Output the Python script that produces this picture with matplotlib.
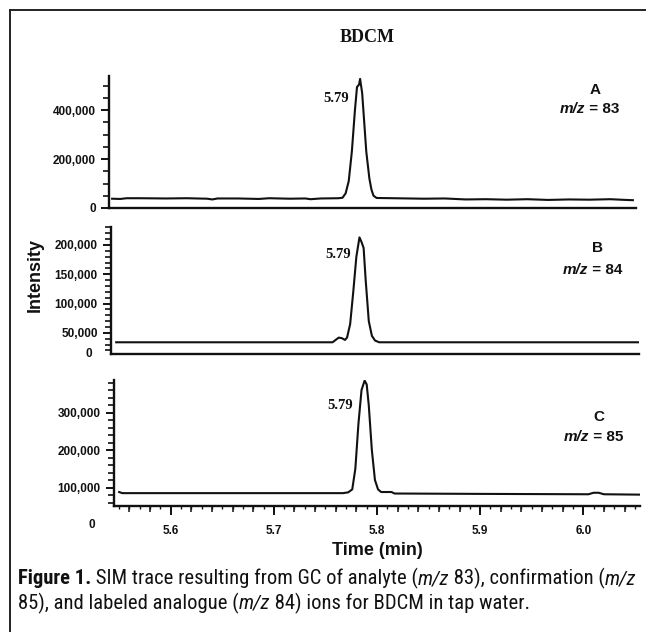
import numpy as np
import matplotlib
matplotlib.use('Agg')
import matplotlib.pyplot as plt
from matplotlib import font_manager
from matplotlib.ticker import MultipleLocator, FixedLocator, FuncFormatter, NullFormatter
import matplotlib.transforms as mtransforms

# --- data ---
# panel A, m/z 83
time_a = [5.548, 5.556, 5.562, 5.575, 5.60, 5.62, 5.64, 5.645, 5.65, 5.67, 5.69, 5.70,
          5.72, 5.735, 5.74, 5.75, 5.767, 5.771, 5.774, 5.777, 5.780, 5.783, 5.785,
          5.787, 5.788, 5.790, 5.792, 5.794, 5.797, 5.799, 5.801, 5.804, 5.82, 5.85,
          5.87, 5.89, 5.91, 5.93, 5.95, 5.97, 5.99, 6.01, 6.03, 6.045, 6.052]
int_a = [38000, 37000, 40000, 40000, 39000, 40000, 38000, 35000, 39000, 39000, 37000, 40000,
         38000, 39000, 36000, 39000, 40000, 42000, 60000, 110000, 230000, 400000, 495000,
         505000, 528000, 470000, 350000, 230000, 120000, 75000, 50000, 41000, 40000, 38000,
         39000, 35000, 36000, 34000, 36000, 33000, 35000, 34000, 36000, 33000, 32000]

# panel B, m/z 84
time_b = [5.550, 5.60, 5.70, 5.759, 5.762, 5.765, 5.768, 5.771, 5.773, 5.776, 5.779,
          5.782, 5.785, 5.787, 5.789, 5.791, 5.794, 5.797, 5.800, 5.804, 5.85, 5.95, 6.055]
int_b = [34000, 34000, 34000, 34000, 38000, 42000, 41000, 38000, 42000, 65000, 120000,
         180000, 213000, 205000, 195000, 140000, 70000, 45000, 37000, 34000, 34000, 34000, 34000]

# panel C, m/z 85
time_c = [5.550, 5.553, 5.60, 5.70, 5.767, 5.772, 5.776, 5.779, 5.782, 5.785, 5.788,
          5.790, 5.792, 5.795, 5.798, 5.801, 5.804, 5.814, 5.817, 5.90, 6.005, 6.010,
          6.015, 6.020, 6.055]
int_c = [88000, 85000, 85000, 85000, 85000, 87000, 95000, 150000, 270000, 360000, 385000,
         375000, 320000, 200000, 120000, 95000, 88000, 88000, 84000, 83000, 82000, 86000,
         86000, 82000, 81000]

peak_rt = "5.79"
ions = ["83", "84", "85"]
letters = ["A", "B", "C"]
ylims = [(0, 540000), (14000, 230700), (50700, 386700)]
ymajor = [[0, 200000, 400000], [50000, 100000, 150000, 200000], [100000, 200000, 300000]]
yminor_step = [50000, 10000, 20000]
xlim = (5.545, 6.055)
xmajor = [5.6, 5.7, 5.8, 5.9, 6.0]

caption1 = [("Figure 1.", "bold", "normal"),
            (" SIM trace resulting from GC of analyte (", "normal", "normal"),
            ("m/z", "normal", "italic"),
            (" 83), confirmation (", "normal", "normal"),
            ("m/z", "normal", "italic")]
caption2 = [("85), and labeled analogue (", "normal", "normal"),
            ("m/z", "normal", "italic"),
            (" 84) ions for BDCM in tap water.", "normal", "normal")]

# --- layout (pixels of the 646x632 picture) ---
W, H = 646, 632
boxes = [(109, 76, 636, 208), (111, 227, 639, 354), (114, 380, 640, 506)]
sans = ['Liberation Sans', 'DejaVu Sans']
serif = ['Liberation Serif', 'DejaVu Serif']

installed = {f.name for f in font_manager.fontManager.ttflist}
cap_font = 'Liberation Sans'
for name in ['Liberation Sans Narrow', 'DejaVu Sans Condensed', 'Roboto Condensed',
             'Open Sans Condensed', 'Noto Sans Condensed']:
    if name in installed:
        cap_font = name
        break

fig = plt.figure(figsize=(W / 100, H / 100), dpi=100)


def fx(px):
    return px / W


def fy(py):
    return 1 - py / H


# frame lines (top and left only are visible)
fig.add_artist(plt.Line2D([fx(10), 1], [fy(10), fy(10)], color='#222222', lw=1.4))
fig.add_artist(plt.Line2D([fx(10), fx(10)], [fy(10), 0], color='#222222', lw=1.4))

fig.text(fx(367), fy(37), "BDCM", family=serif, fontweight='bold', fontsize=13,
         ha='center', va='center', color='#111111')

traces = [(time_a, int_a), (time_b, int_b), (time_c, int_c)]
axes = []
for k, (l, t, r, b) in enumerate(boxes):
    ax = fig.add_axes([fx(l), fy(b), (r - l) / W, (b - t) / H])
    tt, yy = traces[k]
    ax.plot(tt, yy, color='#111111', lw=1.5, solid_joinstyle='round')
    ax.set_xlim(*xlim)
    ax.set_ylim(*ylims[k])
    for s in ['top', 'right']:
        ax.spines[s].set_visible(False)
    for s in ['left', 'bottom']:
        ax.spines[s].set_linewidth(1.7)
        ax.spines[s].set_color('#111111')
    ax.yaxis.set_major_locator(FixedLocator(ymajor[k]))
    ax.yaxis.set_minor_locator(MultipleLocator(yminor_step[k]))
    ax.yaxis.set_major_formatter(FuncFormatter(lambda v, p: f"{v:,.0f}"))
    ax.tick_params(axis='y', which='major', length=5.5, width=1.4, direction='out',
                   labelsize=8.5, pad=4, colors='#111111')
    ax.tick_params(axis='y', which='minor', length=4, width=1.2, direction='out',
                   colors='#111111')
    for lab in ax.get_yticklabels():
        lab.set_fontfamily(sans)
        lab.set_fontweight('bold')
    if k < 2:
        ax.set_xticks([])
    else:
        ax.xaxis.set_major_locator(FixedLocator(xmajor))
        ax.xaxis.set_minor_locator(MultipleLocator(0.01))
        ax.xaxis.set_major_formatter(FuncFormatter(lambda v, p: f"{v:.1f}"))
        ax.tick_params(axis='x', which='major', length=6.5, width=1.4, labelsize=8.5,
                       pad=7, colors='#111111')
        ax.tick_params(axis='x', which='minor', length=2.5, width=1.0, colors='#111111')
        for lab in ax.get_xticklabels():
            lab.set_fontfamily(sans)
            lab.set_fontweight('bold')
        # medium ticks every 0.02
        ax2 = ax.twiny()
        ax2.set_xlim(*xlim)
        ax2.xaxis.set_ticks_position('bottom')
        ax2.xaxis.set_major_locator(MultipleLocator(0.02))
        ax2.xaxis.set_major_formatter(NullFormatter())
        ax2.tick_params(axis='x', length=4, width=1.1, colors='#111111')
        for s in ax2.spines.values():
            s.set_visible(False)
        ax2.yaxis.set_visible(False)
        ax2.patch.set_visible(False)
    ax.patch.set_visible(False)
    axes.append(ax)

# "0" labels at the bottom of panels B and C
axes[1].text(-0.035, 0.0, "0", transform=axes[1].transAxes, ha='right', va='center',
             fontsize=8.5, fontweight='bold', family=sans, color='#111111')
blend = mtransforms.blended_transform_factory(axes[2].transAxes, axes[2].transData)
axes[2].text(-0.035, 0, "0", transform=blend, ha='right', va='center', clip_on=False,
             fontsize=8.5, fontweight='bold', family=sans, color='#111111')

fig.text(fx(35), fy(275), "Intensity", rotation=90, family=sans, fontweight='bold',
         fontsize=13, ha='center', va='center', color='#111111')
axes[2].set_xlabel("Time (min)", family=sans, fontweight='bold', fontsize=13,
                   labelpad=4, color='#111111')

fig.canvas.draw()
rend = fig.canvas.get_renderer()


def run_width(runs, size, family):
    tmp = [fig.text(0, 0, s, fontsize=size, fontweight=w, fontstyle=st, family=family)
           for s, w, st in runs]
    total = sum(t.get_window_extent(renderer=rend).width for t in tmp)
    for t in tmp:
        t.remove()
    return total


def draw_runs(x, y, runs, size, family):
    # place text pieces one after another on a baseline, x,y in figure pixels
    for s, w, st in runs:
        t = fig.text(x / W, y / H, s, fontsize=size, fontweight=w,
                     fontstyle=st, family=family, va='baseline', ha='left', color='#111111')
        bb = t.get_window_extent(renderer=rend)
        x = bb.x1


# 5.79 labels and ion labels
rt_pos = [(5.777, 450000), (5.777, 183000), (5.777, 319000)]
let_pos = [(6.015, 483000), (6.015, 195000), (6.015, 287000)]
mz_pos = [(6.010, 405000), (6.010, 157000), (6.010, 236000)]
for k, ax in enumerate(axes):
    ax.text(*rt_pos[k], peak_rt, family=serif, fontweight='bold', fontsize=10.5,
            ha='right', va='center', color='#111111')
    ax.text(*let_pos[k], letters[k], family=sans, fontweight='bold', fontsize=11,
            ha='center', va='center', color='#111111')
    px, py = ax.transData.transform(mz_pos[k])
    runs = [("m/z", "bold", "italic"), (" = " + ions[k], "bold", "normal")]
    total = run_width(runs, 11, sans)
    draw_runs(px - total / 2, py - 4, runs, 11, sans)

# caption sized to span the width of the reference
cap_size = 14
w1 = run_width(caption1, cap_size, cap_font)
cap_size = cap_size * 620 / w1
draw_runs(18, H - 584, caption1, cap_size, cap_font)
draw_runs(18, H - 609, caption2, cap_size, cap_font)

fig.savefig("out.png", dpi=100)
